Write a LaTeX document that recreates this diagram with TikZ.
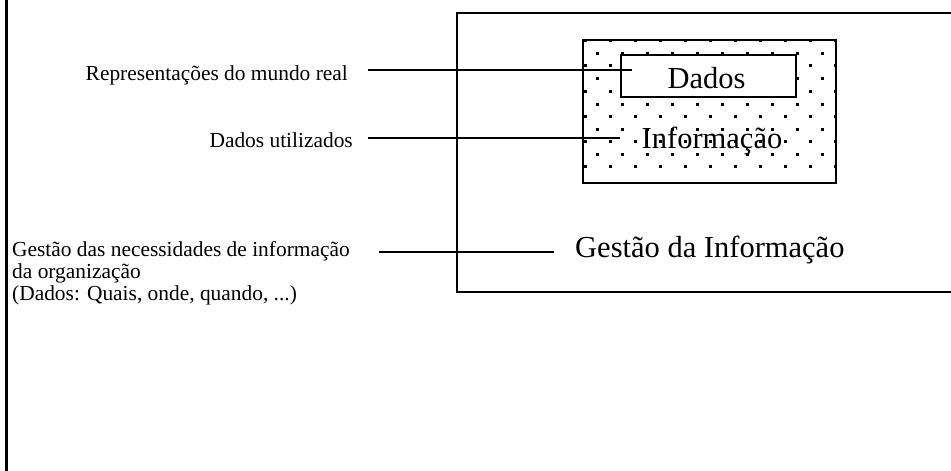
\documentclass[tikz,border=0pt]{standalone}
\usepackage{fontspec}
\setmainfont{Liberation Serif}
\begin{document}
\begin{tikzpicture}[x=1bp,y=-1bp,
  conn/.style={line width=1.3bp},
  frame/.style={draw, line width=1.5bp},
  small/.style={inner sep=0, font=\fontsize{21.4bp}{22bp}\selectfont},
  big/.style={inner sep=0, font=\fontsize{30.5bp}{33bp}\selectfont}]
\useasboundingbox (0,0) rectangle (951,471);
\clip (0,0) rectangle (951,471);
% left margin rule
\draw[line width=2.7bp] (6.3,-5) -- (6.3,476);
% outer frame (open to the right)
\draw[frame] (1000,13) -- (457,13) -- (457,292) -- (1000,292);
% dotted area
\begin{scope}
  \clip (583,40) rectangle (836,183);
  \foreach \j in {0,...,5}
    \foreach \k in {0,...,10}
      \fill (583.5+25*\k, 39+25.3*\j) rectangle ++(3,3);
  \foreach \j in {0,...,4}
    \foreach \k in {0,...,9}
      \fill (596+25*\k, 52+25.3*\j) rectangle ++(3,3);
\end{scope}
\node[frame, minimum width=253bp, minimum height=143bp, inner sep=0] (infobox) at (709.5,111.5) {};
\node[frame, fill=white, minimum width=175bp, minimum height=42bp, inner sep=0] (dadosbox) at (708.5,76) {};
\node[big, anchor=base] (dados) at (706.5,89) {Dados};
\node[big, anchor=base] (informacao) at (712,149) {Informação};
\node[big, anchor=base west] (gestao) at (575,258) {Gestão da Informação};
% left labels
\node[small, anchor=base east] (rep) at (348,81) {Representações do mundo real};
\node[small, anchor=base east] (util) at (353,148) {Dados utilizados};
\node[small, anchor=north west, align=left] (nec) at (12,241.5)
  {Gestão das necessidades de informação\\da organização\\(Dados: Quais, onde, quando, ...)};
% connectors
\coordinate (c1s) at (368,70);  \coordinate (c1e) at (632,70);
\coordinate (c2s) at (368,138); \coordinate (c2e) at (620,138);
\coordinate (c3s) at (379,252); \coordinate (c3e) at (554,252);
\draw[conn] (c1s) -- (c1e);
\draw[conn] (c2s) -- (c2e);
\draw[conn] (c3s) -- (c3e);
\end{tikzpicture}
\end{document}
